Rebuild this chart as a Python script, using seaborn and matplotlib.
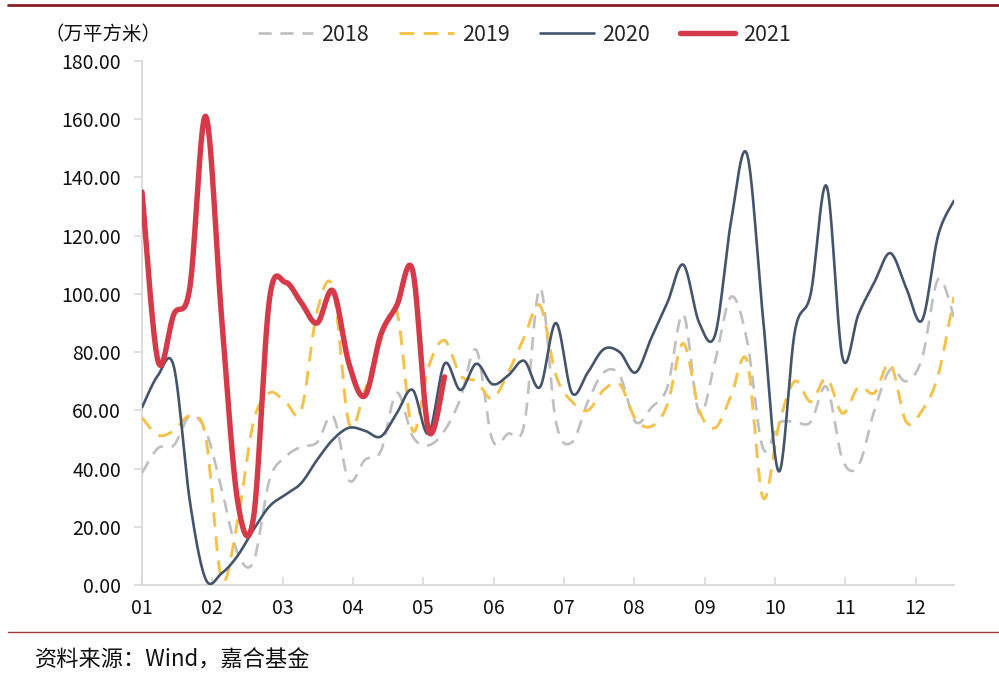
import numpy as np
import pandas as pd
import matplotlib
matplotlib.use("Agg")
import matplotlib.pyplot as plt
from matplotlib.lines import Line2D
import seaborn as sns

# ---------------- data (weekly) ----------------
months = ["01", "02", "03", "04", "05", "06", "07", "08", "09", "10", "11", "12"]
yticks = [0, 20, 40, 60, 80, 100, 120, 140, 160, 180]

y2018 = [38.5, 47, 48, 58, 53, 33, 11, 8, 36, 44, 47.5, 49, 58, 36, 43, 46, 66, 51,
         48, 53, 64, 80.7, 50, 52, 55, 102, 56, 49, 63, 73, 72, 56, 61, 68, 93, 59,
         77, 99, 84, 47, 55.6, 56, 56, 68, 43, 41, 60, 74, 70, 78, 105, 92]
y2019 = [57.5, 51.5, 53, 58, 51, 2, 22, 56, 66, 63, 60, 94, 102, 55.6, 67, 84, 94, 53,
         75, 84, 72, 70, 64, 73, 85, 96, 72, 63, 60, 67, 69, 57, 54.5, 62, 83, 60,
         54, 65, 77, 30, 55, 70, 63, 71, 59, 68, 66, 76, 56, 60, 72, 99]
y2020 = [61, 72, 75, 29, 2, 4, 10, 19, 27, 31, 35, 43, 50, 54, 53, 51, 59, 67,
         52, 76, 67, 76, 69, 72, 77, 68, 90, 66, 73, 81, 80, 73, 85, 97, 110, 90,
         86, 125, 148, 92, 39, 87, 100, 137, 78, 93, 104, 114, 102, 91, 120, 132]
y2021 = [135, 77, 93, 102, 161, 92, 29, 23, 98, 104, 97, 90, 101, 76, 65, 86, 96, 108,
         53, 71.5]

series = ["2018", "2019", "2020", "2021"]
values = [y2018, y2019, y2020, y2021]
colors = ["#BFBFBF", "#F4C24B", "#44546A", "#D63A49"]
widths = [1.9, 2.1, 1.9, 3.9]
styles = [(0, (5, 3.3)), (0, (5, 3.3)), "-", "-"]


def smooth(xs, ys, n=24):
    """Excel-like smoothed line (Catmull-Rom Bezier) through the data points."""
    p = np.column_stack([xs, ys]).astype(float)
    out = []
    for i in range(len(p) - 1):
        p0 = p[i - 1] if i > 0 else p[i]
        p1, p2 = p[i], p[i + 1]
        p3 = p[i + 2] if i + 2 < len(p) else p[i + 1]
        c1 = p1 + (p2 - p0) / 6.0
        c2 = p2 - (p3 - p1) / 6.0
        t = np.linspace(0, 1, n, endpoint=(i == len(p) - 2))[:, None]
        seg = ((1 - t) ** 3) * p1 + 3 * ((1 - t) ** 2) * t * c1 + 3 * (1 - t) * t ** 2 * c2 + t ** 3 * p2
        out.append(seg)
    seg = np.vstack(out)
    return seg[:, 0], seg[:, 1]


sns.set_theme(style="white")
plt.rcParams["font.family"] = ["Noto Sans CJK SC", "DejaVu Sans"]

fig = plt.figure(figsize=(9.99, 6.78), dpi=100)
ax = fig.add_axes([142 / 999, 1 - 585 / 678, 812 / 999, 524 / 678])

handles = []
for name, vals, c, lw, ls in zip(series, values, colors, widths, styles):
    wk = np.arange(len(vals))
    sx, sy = smooth(wk, vals)
    df = pd.DataFrame({"week": sx, "value": sy})
    sns.lineplot(data=df, x="week", y="value", ax=ax, color=c, linewidth=lw,
                 linestyle=ls, sort=False, estimator=None, legend=False,
                 solid_capstyle="round", zorder=3)
    handles.append(Line2D([], [], color=c, lw=lw, linestyle=ls, solid_capstyle="round"))

ax.set_xlim(0, 51)
ax.set_ylim(0, 180)
ax.set_xlabel("")
ax.set_ylabel("")

ax.set_yticks(yticks)
ax.set_yticklabels([f"{v:.2f}" for v in yticks])
step = 53 / 12
ax.set_xticks([k * step for k in range(len(months))])
ax.set_xticklabels(months)

for s in ["top", "right"]:
    ax.spines[s].set_visible(False)
for s in ["left", "bottom"]:
    ax.spines[s].set_color("#D9D9D9")
    ax.spines[s].set_linewidth(1.3)

ax.tick_params(axis="y", direction="out", length=6, width=1.2, color="#D9D9D9",
               labelsize=14, labelcolor="#111111", pad=9, left=True)
ax.tick_params(axis="x", direction="in", length=6, width=1.2, color="#D9D9D9",
               labelsize=14, labelcolor="#111111", pad=9, bottom=True)
ax.grid(False)
ax.set_facecolor("white")

# legend
fig.legend(handles, series, loc="center", bbox_to_anchor=(0.525, 1 - 35 / 678),
           ncol=4, frameon=False, fontsize=15.5, handlelength=2.55,
           handletextpad=0.37, columnspacing=1.4)

# unit label
fig.text(45 / 999, 1 - 34 / 678, "（万平方米）", fontsize=14, color="#111111",
         ha="left", va="center")

# decorative rules
fig.add_artist(Line2D([8 / 999, 1.0], [1 - 5 / 678, 1 - 5 / 678], color="#8E1F24", lw=2.0))
fig.add_artist(Line2D([8 / 999, 1.0], [1 - 632 / 678, 1 - 632 / 678], color="#A8383A", lw=1.0))

# source
fig.text(35 / 999, 1 - 660 / 678, "资料来源：Wind，嘉合基金", fontsize=16, color="#111111",
         ha="left", va="center")

fig.savefig("out.png", dpi=100, facecolor="white")
